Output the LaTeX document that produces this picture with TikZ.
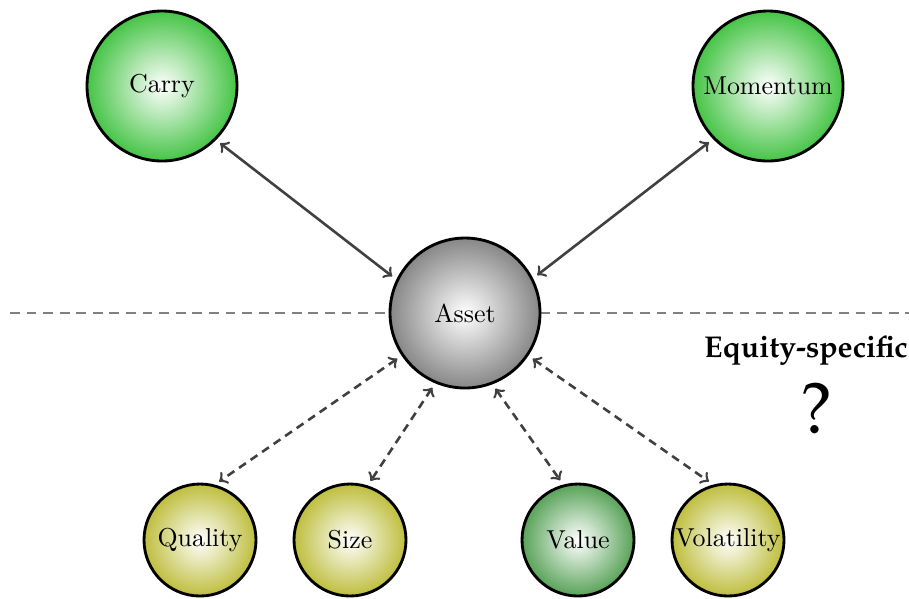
\documentclass[tikz,border=0pt]{standalone}
\usetikzlibrary{arrows}
\definecolor{carrygreen}{RGB}{70,196,70}
\definecolor{assetgray}{RGB}{135,135,135}
\definecolor{equityolive}{RGB}{190,190,62}
\definecolor{valuegreen}{RGB}{88,162,88}
\definecolor{linkgray}{RGB}{64,64,64}
\newcommand{\pala}{\fontencoding{T1}\fontfamily{ppl}\selectfont}
\begin{document}
\begin{tikzpicture}[x=0.386pt,y=-0.386pt,
  factor/.style={circle,draw,line width=1.1pt,inner sep=-8pt,inner color=white},
  big/.style={factor,minimum size=150*0.386pt},
  small/.style={factor,minimum size=112*0.386pt},
  link/.style={<->,>=to,draw=linkgray,line width=1pt,shorten <=2pt,shorten >=2pt},
  dlink/.style={link,dash pattern=on 3.2pt off 2.2pt}]
  \useasboundingbox (0,0) rectangle (909,598);
  % split line behind the asset
  \coordinate (l) at (10,313);
  \coordinate (r) at (909,313);
  \draw[gray,line width=0.7pt,dash pattern=on 3.8pt off 2.6pt] (l) -- (r);
  % top factors
  \node (carry) [big,outer color=carrygreen] at (162,86) {Carry};
  \node (mom) [big,outer color=carrygreen] at (768,86) {Momentum};
  \node (asset) [big,outer color=assetgray] at (465,313) {Asset};
  % equity factors
  \node (qual) [small,outer color=equityolive] at (200,540) {Quality};
  \node (size) [small,outer color=equityolive] at (350,540) {Size};
  \node (val) [small,outer color=valuegreen] at (578,540) {Value};
  \node (vol) [small,outer color=equityolive] at (728,540) {Volatility};
  \node (eq) at (806,350) {\pala\fontsize{11.6}{14}\fontseries{b}\selectfont Equity-specific};
  \node (q) at (817,408) {\pala\fontsize{28}{32}\selectfont ?};
  \draw[link] (carry.-45) -- (asset.154);
  \draw[link] (mom.224) -- (asset.27);
  \draw[dlink] (asset.214) -- (qual.75);
  \draw[dlink] (asset.247) -- (size.72);
  \draw[dlink] (asset.291) -- (val.105);
  \draw[dlink] (asset.326) -- (vol.105);
\end{tikzpicture}
\end{document}
